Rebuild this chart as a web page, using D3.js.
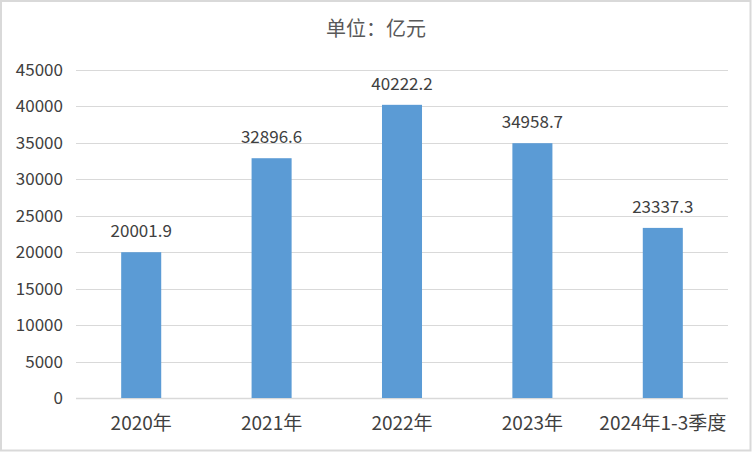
<!DOCTYPE html>
<html><head><meta charset="utf-8">
<script src="https://cdn.jsdelivr.net/npm/d3@7"></script>
<style>body{margin:0;background:#fff}svg{display:block}</style>
</head><body>
<script>
const categories = ["2020年", "2021年", "2022年", "2023年", "2024年1-3季度"];
const values = [20001.9, 32896.6, 40222.2, 34958.7, 23337.3];
const yTicks = [0, 5000, 10000, 15000, 20000, 25000, 30000, 35000, 40000, 45000];
const title = "单位：亿元";

(function () {
const W = 752, H = 452;
const svg = d3.select("body").append("svg").attr("width", W).attr("height", H);
const font = "'Noto Sans CJK SC','Microsoft YaHei',sans-serif";

svg.append("rect").attr("x", 1).attr("y", 1).attr("width", W - 2.5).attr("height", H - 2.5)
  .attr("fill", "#fff").attr("stroke", "#d9d9d9").attr("stroke-width", 2);

const pL = 76, pR = 728, pT = 70, pB = 398;
const x = d3.scaleBand().domain(categories).range([pL, pR]).paddingInner(0.693).paddingOuter(0.3465);
const y = d3.scaleLinear().domain([0, 45000]).range([pB, pT]);

svg.append("g").selectAll("line").data(yTicks).join("line")
  .attr("x1", pL).attr("x2", pR)
  .attr("y1", d => Math.round(y(d)) + 0.5).attr("y2", d => Math.round(y(d)) + 0.5)
  .attr("stroke", "#d9d9d9").attr("stroke-width", d => d === 0 ? 1.5 : 1.2);

const yAxis = svg.append("g").attr("transform", `translate(${pL},0)`)
  .call(d3.axisLeft(y).tickValues(yTicks).tickSize(0).tickPadding(13).tickFormat(d3.format("d")));
yAxis.select(".domain").remove();
yAxis.selectAll("text").attr("font-family", font).attr("font-size", 17).attr("fill", "#404040");

const xAxis = svg.append("g").attr("transform", `translate(0,${pB})`)
  .call(d3.axisBottom(x).tickSize(0).tickPadding(0));
xAxis.select(".domain").remove();
xAxis.selectAll("text").attr("font-family", font).attr("font-size", 19).attr("fill", "#404040")
  .attr("dy", null).attr("y", 32);

svg.append("g").selectAll("rect").data(values).join("rect")
  .attr("x", (d, i) => x(categories[i]))
  .attr("width", x.bandwidth())
  .attr("y", d => y(d))
  .attr("height", d => y(0) - y(d))
  .attr("fill", "#5b9bd5");

svg.append("g").selectAll("text").data(values).join("text")
  .attr("x", (d, i) => x(categories[i]) + x.bandwidth() / 2)
  .attr("y", d => y(d) - 15)
  .attr("text-anchor", "middle")
  .attr("font-family", font).attr("font-size", 17).attr("fill", "#404040")
  .text(d => d.toFixed(1));

svg.append("text").attr("x", 376).attr("y", 36).attr("text-anchor", "middle")
  .attr("font-family", font).attr("font-size", 20).attr("fill", "#595959").text(title);
})();
</script>
</body></html>
